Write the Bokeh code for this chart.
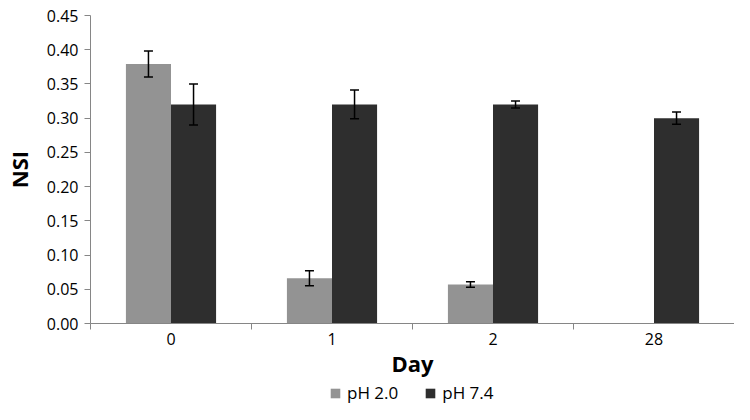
import numpy as np
from bokeh.plotting import figure
from bokeh.layouts import column
from bokeh.models import (ColumnDataSource, FixedTicker, Range1d, Whisker, TeeHead,
                          Legend, LegendItem, NumeralTickFormatter)
from bokeh.embed import file_html
from bokeh.resources import INLINE

days = ["0", "1", "2", "28"]
ph20 = [0.379, 0.066, 0.057, 0.0]
ph20_err = [0.019, 0.011, 0.004, 0.0]
ph74 = [0.320, 0.320, 0.320, 0.300]
ph74_err = [0.030, 0.021, 0.005, 0.009]
series_names = ["pH 2.0", "pH 7.4"]
colors = ["#939393", "#2e2e2e"]

FONT = "Open Sans"
idx = np.arange(len(days))
centers = idx + 0.5
off = 0.14
bw = 0.28

p = figure(width=734, height=380, output_backend="svg", toolbar_location=None,
           x_range=Range1d(0, len(days)), y_range=Range1d(0, 0.45),
           min_border_left=85, min_border_right=0, min_border_top=15, min_border_bottom=57)
p.outline_line_color = None
p.xgrid.visible = False
p.ygrid.visible = False
p.background_fill_color = "white"

renderers = []
for k, (vals, errs) in enumerate([(ph20, ph20_err), (ph74, ph74_err)]):
    x = centers + (-off if k == 0 else off)
    src = ColumnDataSource(dict(x=x, top=vals))
    r = p.vbar(x="x", top="top", width=bw, source=src, fill_color=colors[k], line_color=None)
    renderers.append(r)
    v = np.array(vals)
    e = np.array(errs)
    mask = v > 0
    esrc = ColumnDataSource(dict(x=x[mask], lo=(v - e)[mask], hi=(v + e)[mask]))
    w = Whisker(base="x", lower="lo", upper="hi", source=esrc, level="annotation",
                line_color="black", line_width=1.5,
                upper_head=TeeHead(size=9, line_width=1.5, line_color="black"),
                lower_head=TeeHead(size=9, line_width=1.5, line_color="black"))
    p.add_layout(w)

# axes
p.xaxis.ticker = FixedTicker(ticks=list(centers), minor_ticks=list(np.arange(len(days) + 1)))
p.xaxis.major_label_overrides = {float(c): d for c, d in zip(centers, days)}
p.xaxis.major_tick_out = 0
p.xaxis.major_tick_in = 0
p.xaxis.minor_tick_out = 6
p.xaxis.minor_tick_in = 0
p.xaxis.axis_label = "Day"

p.yaxis.ticker = FixedTicker(ticks=[round(0.05 * i, 2) for i in range(10)])
p.yaxis.formatter = NumeralTickFormatter(format="0.00")
p.yaxis.major_tick_out = 6
p.yaxis.major_tick_in = 0
p.yaxis.minor_tick_out = 0
p.yaxis.minor_tick_in = 0
p.yaxis.axis_label = "NSI"

for ax in (p.xaxis[0], p.yaxis[0]):
    ax.axis_line_color = "#868686"
    ax.major_tick_line_color = "#868686"
    ax.minor_tick_line_color = "#868686"
    ax.major_label_text_font = FONT
    ax.major_label_text_font_size = "16px"
    ax.major_label_text_color = "black"
    ax.axis_label_text_font = FONT
    ax.axis_label_text_font_size = "22px"
    ax.axis_label_text_font_style = "bold"
    ax.axis_label_text_color = "black"
p.yaxis.axis_label_standoff = 10
p.yaxis.major_label_standoff = 6
p.xaxis.axis_label_standoff = 0
p.xaxis.major_label_standoff = 3

# legend strip below the chart
q = figure(width=734, height=24, output_backend="svg", toolbar_location=None,
           x_axis_type=None, y_axis_type=None,
           x_range=Range1d(0, 1), y_range=Range1d(0, 1),
           min_border_left=0, min_border_right=0, min_border_top=0, min_border_bottom=0)
q.outline_line_color = None
q.xgrid.visible = False
q.ygrid.visible = False
leg_r = [q.vbar(x=[np.nan], top=[np.nan], width=0.1, fill_color=colors[i], line_color=None)
         for i in range(2)]
legend = Legend(items=[LegendItem(label=series_names[i], renderers=[leg_r[i]]) for i in range(2)],
                orientation="horizontal", location=(239, 0),
                label_text_font=FONT, label_text_font_size="17px", label_text_color="black",
                glyph_width=12, glyph_height=12, spacing=26,
                border_line_color=None, background_fill_alpha=0,
                padding=0, margin=0, label_standoff=6)
q.add_layout(legend, "center")

open("out.html", "w").write(file_html(column(p, q), INLINE))
